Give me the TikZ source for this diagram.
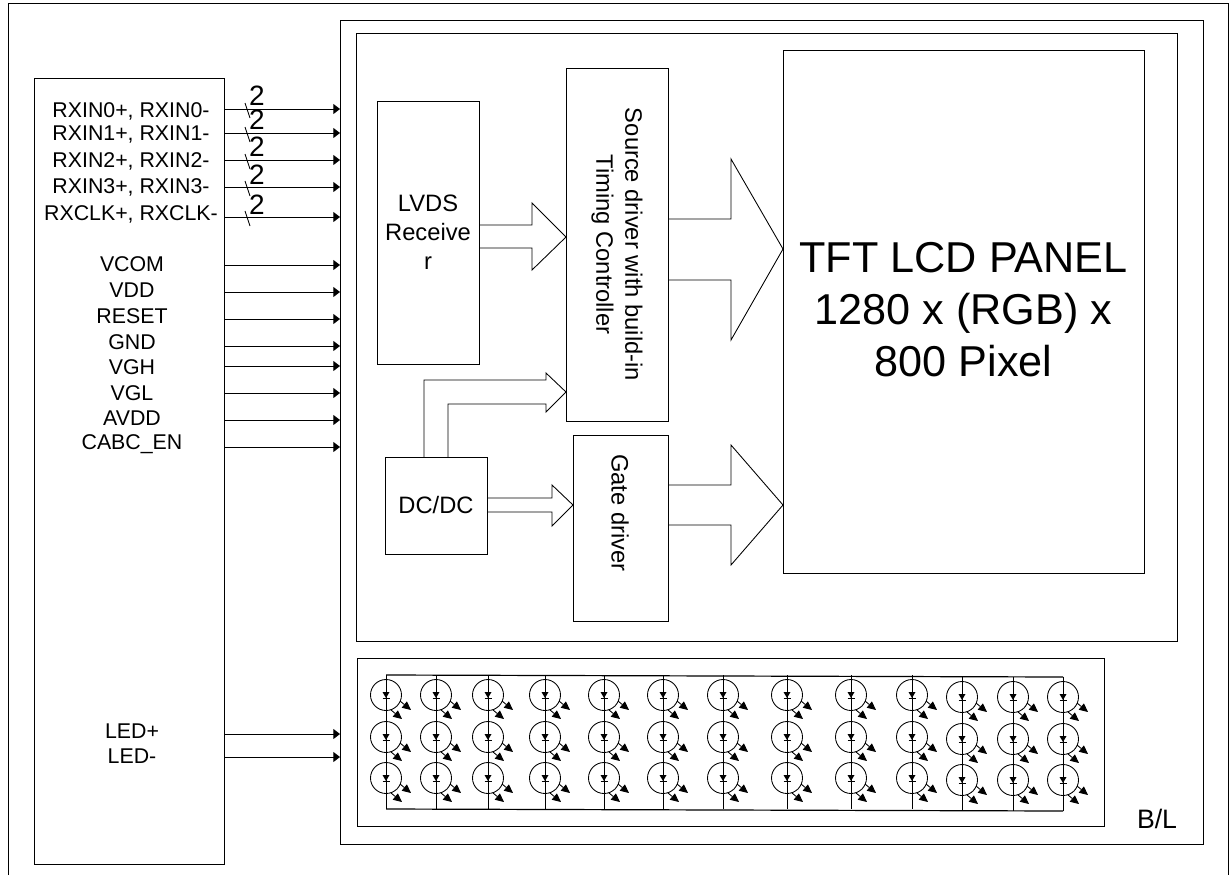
\documentclass[tikz,border=0pt]{standalone}
\usepackage{fontspec}
\setmainfont{Liberation Sans}
\usetikzlibrary{arrows.meta}
\def\px{.75pt}
\def\lblfont{\fontsize{16}{19}\selectfont}
\def\boxfont{\fontsize{17.8}{21.75}\selectfont}

\begin{document}
\begin{tikzpicture}[x=.75pt,y=-.75pt,line width=.65pt,box/.style={draw,inner sep=0pt,outer sep=0pt,align=center,font=\boxfont},lbl/.style={inner sep=0pt,font=\lblfont},wire/.style={-{Triangle[length=5pt,width=7.5pt]}},ray/.style={-{Triangle[length=6.5pt,width=6pt]}},blockarrow/.style={draw,line width=.65pt}]
\useasboundingbox (0,0) rectangle (1231,875);

\draw (8,875)--(8,3)--(1228,3)--(1228,875);

\node[box,minimum width=190*\px,minimum height=786*\px] (conn) at(129,471) {};
\node[box,minimum width=863*\px,minimum height=824*\px] (module) at(771.5,432) {};
\node[box,minimum width=821*\px,minimum height=608*\px] (cell) at(766.5,337) {};
\node[box,minimum width=102*\px,minimum height=263*\px] (lvds) at(428,232.5) {LVDS\\Receive\\r};
\node[box,rotate=-90,minimum width=353*\px,minimum height=102*\px] (source) at(617,244.5) {Source driver with build-in\\Timing Controller};
\node[box,minimum width=102*\px,minimum height=97*\px] (dcdc) at(436,505.5) {DC/DC};
\node[box,minimum width=95*\px,minimum height=186*\px] (gate) at(620.5,528) {};
\node[font=\boxfont,rotate=-90,inner sep=0pt] (gatetxt) at(620,513) {Gate driver};
\node[box,minimum width=361*\px,minimum height=523*\px] (tft) at(963.5,311.5) {};
\node[align=center,inner sep=0pt,font=\fontsize{32.4}{39}\selectfont] (tfttxt) at(963.5,309.5) {TFT LCD PANEL\\1280 x (RGB) x\\800 Pixel};
\node[box,minimum width=747*\px,minimum height=168*\px] (bl) at(730.5,742) {};
\node[font=\fontsize{20}{24}\selectfont,inner sep=0pt] (bltxt) at(1157,819) {B/L};

% signals on the connector
\foreach \name/\txt/\ly/\ay/\sy in {rxa/{RXIN0+, RXIN0-}/111/109/96,rxb/{RXIN1+, RXIN1-}/135/133/120,rxc/{RXIN2+, RXIN2-}/161/160/147,rxd/{RXIN3+, RXIN3-}/187/187/175,rxe/{RXCLK+, RXCLK-}/214/217/205}{
\node[lbl] (\name) at(131,\ly) {\txt};
\draw[wire] (conn.east|-0,\ay)--(module.west|-0,\ay);
\draw (245,\ay-6)--(250,\ay+9);
\node[font=\fontsize{21}{24}\selectfont,inner sep=0pt] (\name two) at(257,\sy) {2};
}
\foreach \name/\txt/\ly/\ay in {vcom/VCOM/264.5/265,vdd/VDD/290/292,rst/RESET/316/319,gnd/GND/342/346,vgh/VGH/367/366,vgl/VGL/393/393,avdd/AVDD/418/420,cabc/CABC\_EN/444/447,ledp/LED+/731/734,ledn/LED-/756/757}{
\node[lbl] (\name) at(132,\ly) {\txt};
\draw[wire] (conn.east|-0,\ay)--(module.west|-0,\ay);
}

% block arrows
\draw[blockarrow] (lvds.east|-0,225)--(532,225)--(532,203)--(source.south|-0,237)--(532,270)--(532,248)--(lvds.east|-0,248);
\draw[blockarrow] (source.north|-0,219)--(731,219)--(731,159)--(tft.west|-0,249)--(731,340)--(731,280)--(source.north|-0,280);
\draw[blockarrow] (gate.east|-0,485)--(731,485)--(731,445)--(tft.west|-0,505)--(731,565)--(731,525)--(gate.east|-0,525);
\draw[blockarrow] (dcdc.east|-0,498)--(552,498)--(552,485)--(gate.west|-0,505)--(552,526)--(552,512)--(dcdc.east|-0,512);
\draw[blockarrow] (424,0|-dcdc.north)--(424,380)--(546,380)--(546,373)--(source.south|-0,392)--(546,412)--(546,404)--(448,404)--(448,0|-dcdc.north);

% backlight
\draw[line width=.9pt] (386,675)--(1063,677) (386,809)--(1063,811);
\foreach \cx/\dy in {386/0,436/0,488/0,545/0,604/0,663/0,723/0,787/0,851/0,912/0,962/2,1013/2,1063/2}{
\draw (\cx,675+\dy)--(\cx,809+\dy);
\foreach \cy in {695,737,778}{
\draw (\cx,\cy+\dy) circle (15.5);
\fill (\cx-3.5,\cy+\dy-3)--(\cx+3.5,\cy+\dy-3)--(\cx,\cy+\dy+3)--cycle;
\draw (\cx-3.5,\cy+\dy+3)--(\cx+3.5,\cy+\dy+3);
\draw[ray] (\cx+14,\cy+\dy+6)--(\cx+25,\cy+\dy+15);
\draw[ray] (\cx+5,\cy+\dy+15)--(\cx+16,\cy+\dy+24);
}
}
\end{tikzpicture}
\end{document}
